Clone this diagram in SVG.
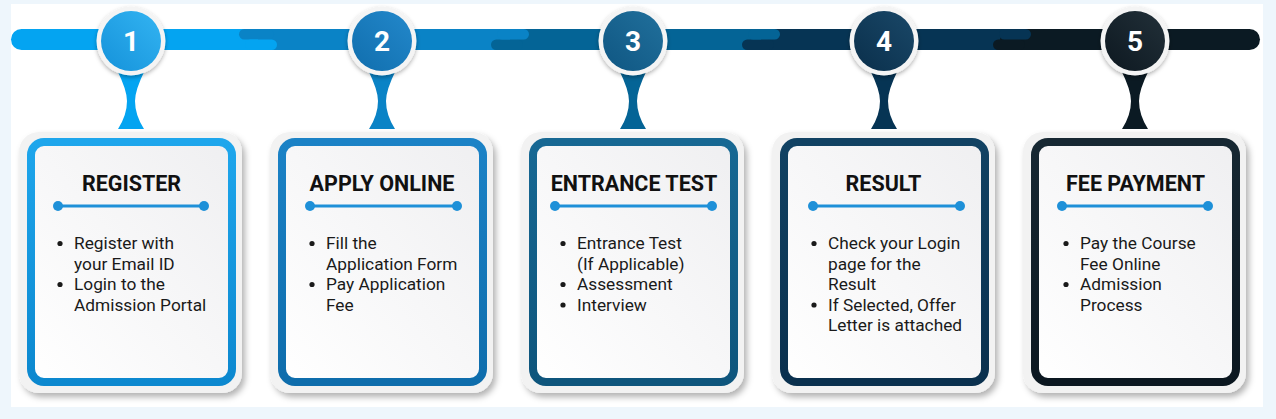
<svg xmlns="http://www.w3.org/2000/svg" width="1276" height="419" viewBox="0 0 1276 419">
<defs>
<style>
.title{font-family:Roboto,"Liberation Sans",sans-serif;font-weight:700;font-size:21.5px;fill:#111;text-anchor:middle}
.body{font-family:Roboto,"Liberation Sans",sans-serif;font-size:17.3px;fill:#1a1a1a}
.num{font-family:Roboto,"Liberation Sans",sans-serif;font-weight:700;font-size:28px;fill:#fff;text-anchor:middle}
.frame{fill:#f2f2f2;filter:url(#sh)}
.box{fill:url(#inner);stroke-width:8}
.div{stroke:#1e90d8;stroke-width:3}
.dot{fill:#1e90d8}
.bul{fill:#1a1a1a}
.ring{fill:#f4f4f4;filter:url(#sh2)}
</style>
<filter id="sh" x="-10%" y="-10%" width="130%" height="130%">
<feDropShadow dx="3" dy="4" stdDeviation="3" flood-color="#000" flood-opacity="0.3"/>
</filter>
<filter id="sh2" x="-20%" y="-20%" width="140%" height="150%">
<feDropShadow dx="0" dy="2" stdDeviation="2" flood-color="#000" flood-opacity="0.3"/>
</filter>
<linearGradient id="inner" x1="1" y1="0" x2="0" y2="1">
<stop offset="0" stop-color="#efeff1"/>
<stop offset="1" stop-color="#ffffff"/>
</linearGradient>
<linearGradient id="b1" x1="0" y1="0" x2="0" y2="1"><stop offset="0" stop-color="#1ea6ec"/><stop offset="1" stop-color="#0c88cf"/></linearGradient>
<linearGradient id="b2" x1="0" y1="0" x2="0" y2="1"><stop offset="0" stop-color="#1b82c6"/><stop offset="1" stop-color="#0e6dac"/></linearGradient>
<linearGradient id="b3" x1="0" y1="0" x2="0" y2="1"><stop offset="0" stop-color="#176893"/><stop offset="1" stop-color="#0e557c"/></linearGradient>
<linearGradient id="b4" x1="0" y1="0" x2="0" y2="1"><stop offset="0" stop-color="#114263"/><stop offset="1" stop-color="#0a304e"/></linearGradient>
<linearGradient id="b5" x1="0" y1="0" x2="0" y2="1"><stop offset="0" stop-color="#172833"/><stop offset="1" stop-color="#0b1720"/></linearGradient>
<linearGradient id="c1" x1="0" y1="1" x2="1" y2="0"><stop offset="0" stop-color="#1592da"/><stop offset="1" stop-color="#33b4f2"/></linearGradient>
<linearGradient id="c2" x1="0" y1="1" x2="1" y2="0"><stop offset="0" stop-color="#106ead"/><stop offset="1" stop-color="#2388cb"/></linearGradient>
<linearGradient id="c3" x1="0" y1="1" x2="1" y2="0"><stop offset="0" stop-color="#0f5682"/><stop offset="1" stop-color="#21709c"/></linearGradient>
<linearGradient id="c4" x1="0" y1="1" x2="1" y2="0"><stop offset="0" stop-color="#0a2f4b"/><stop offset="1" stop-color="#1a4868"/></linearGradient>
<linearGradient id="c5" x1="0" y1="1" x2="1" y2="0"><stop offset="0" stop-color="#0d1820"/><stop offset="1" stop-color="#223039"/></linearGradient>
</defs>

<rect x="0" y="0" width="1276" height="419" fill="#eef6fc"/>
<rect x="11" y="4" width="1252" height="403" fill="#ffffff"/>

<g id="connectors">
<rect x="11" y="29" width="260" height="21" rx="10.5" fill="#04a4f1"/>
<rect x="258" y="29" width="252" height="21" fill="#0a83c6"/>
<rect x="510" y="29" width="251" height="21" fill="#046496"/>
<rect x="761" y="29" width="251" height="21" fill="#063454"/>
<rect x="1000" y="29" width="260" height="21" rx="10.5" fill="#0b1a23"/>
<rect x="1012" y="29" width="20" height="21" fill="#0b1a23"/>
<rect x="239" y="29" width="35" height="10.5" rx="5.25" fill="#0a83c6"/>
<rect x="245" y="39.5" width="32" height="10.5" rx="5.25" fill="#04a4f1"/>
<rect x="491" y="39.5" width="32" height="10.5" rx="5.25" fill="#046496"/>
<rect x="497" y="29" width="32" height="10.5" rx="5.25" fill="#0a83c6"/>
<rect x="742" y="39.5" width="32" height="10.5" rx="5.25" fill="#063454"/>
<rect x="748" y="29" width="32" height="10.5" rx="5.25" fill="#046496"/>
<rect x="993" y="39.5" width="32" height="10.5" rx="5.25" fill="#0b1a23"/>
<rect x="999" y="29" width="32" height="10.5" rx="5.25" fill="#063454"/>
<path d="M117,70 Q127,90 127,101 Q127,115 118,129 L144,129 Q135,115 135,101 Q135,90 145,70 Z" fill="#04a4f1"/>
<path d="M368,70 Q378,90 378,101 Q378,115 369,129 L395,129 Q386,115 386,101 Q386,90 396,70 Z" fill="#0a83c6"/>
<path d="M619,70 Q629,90 629,101 Q629,115 620,129 L646,129 Q637,115 637,101 Q637,90 647,70 Z" fill="#046496"/>
<path d="M870,70 Q880,90 880,101 Q880,115 871,129 L897,129 Q888,115 888,101 Q888,90 898,70 Z" fill="#063454"/>
<path d="M1121,70 Q1131,90 1131,101 Q1131,115 1122,129 L1148,129 Q1139,115 1139,101 Q1139,90 1149,70 Z" fill="#0b1a23"/>
</g>

<g id="step1">
<circle class="ring" cx="131" cy="41" r="34.5"/>
<circle cx="131" cy="41" r="30" fill="url(#c1)"/>
<text class="num" x="131" y="51">1</text>
<rect class="frame" x="19" y="132" width="223" height="261" rx="20"/>
<rect class="box" x="31" y="142" width="201" height="240" rx="13" stroke="url(#b1)"/>
<text class="title" x="131.5" y="191">REGISTER</text>
<line class="div" x1="58" y1="206" x2="204" y2="206"/>
<circle class="dot" cx="58" cy="206" r="5"/><circle class="dot" cx="204" cy="206" r="5"/>
<circle class="bul" cx="60" cy="243.5" r="2.6"/><circle class="bul" cx="60" cy="284.5" r="2.6"/>
<text class="body" x="74" y="249">Register with</text>
<text class="body" x="74" y="269.5">your Email ID</text>
<text class="body" x="74" y="290">Login to the</text>
<text class="body" x="74" y="310.5">Admission Portal</text>
</g>

<g id="step2">
<circle class="ring" cx="382" cy="41" r="34.5"/>
<circle cx="382" cy="41" r="30" fill="url(#c2)"/>
<text class="num" x="382" y="51">2</text>
<rect class="frame" x="270" y="132" width="223" height="261" rx="20"/>
<rect class="box" x="282" y="142" width="201" height="240" rx="13" stroke="url(#b2)"/>
<text class="title" x="382" y="191">APPLY ONLINE</text>
<line class="div" x1="310" y1="206" x2="457" y2="206"/>
<circle class="dot" cx="310" cy="206" r="5"/><circle class="dot" cx="457" cy="206" r="5"/>
<circle class="bul" cx="312" cy="243.5" r="2.6"/><circle class="bul" cx="312" cy="284.5" r="2.6"/>
<text class="body" x="326" y="249">Fill the</text>
<text class="body" x="326" y="269.5">Application Form</text>
<text class="body" x="326" y="290">Pay Application</text>
<text class="body" x="326" y="310.5">Fee</text>
</g>

<g id="step3">
<circle class="ring" cx="633" cy="41" r="34.5"/>
<circle cx="633" cy="41" r="30" fill="url(#c3)"/>
<text class="num" x="633" y="51">3</text>
<rect class="frame" x="521" y="132" width="223" height="261" rx="20"/>
<rect class="box" x="533" y="142" width="201" height="240" rx="13" stroke="url(#b3)"/>
<text class="title" x="634" y="191">ENTRANCE TEST</text>
<line class="div" x1="555" y1="206" x2="712" y2="206"/>
<circle class="dot" cx="555" cy="206" r="5"/><circle class="dot" cx="712" cy="206" r="5"/>
<circle class="bul" cx="563" cy="243.5" r="2.6"/><circle class="bul" cx="563" cy="284.5" r="2.6"/><circle class="bul" cx="563" cy="305" r="2.6"/>
<text class="body" x="577" y="249">Entrance Test</text>
<text class="body" x="577" y="269.5">(If Applicable)</text>
<text class="body" x="577" y="290">Assessment</text>
<text class="body" x="577" y="310.5">Interview</text>
</g>

<g id="step4">
<circle class="ring" cx="884" cy="41" r="34.5"/>
<circle cx="884" cy="41" r="30" fill="url(#c4)"/>
<text class="num" x="884" y="51">4</text>
<rect class="frame" x="772" y="132" width="223" height="261" rx="20"/>
<rect class="box" x="784" y="142" width="201" height="240" rx="13" stroke="url(#b4)"/>
<text class="title" x="883.5" y="191">RESULT</text>
<line class="div" x1="813" y1="206" x2="960" y2="206"/>
<circle class="dot" cx="813" cy="206" r="5"/><circle class="dot" cx="960" cy="206" r="5"/>
<circle class="bul" cx="814" cy="243.5" r="2.6"/><circle class="bul" cx="814" cy="305" r="2.6"/>
<text class="body" x="828" y="249">Check your Login</text>
<text class="body" x="828" y="269.5">page for the</text>
<text class="body" x="828" y="290">Result</text>
<text class="body" x="828" y="310.5">If Selected, Offer</text>
<text class="body" x="828" y="331">Letter is attached</text>
</g>

<g id="step5">
<circle class="ring" cx="1135" cy="41" r="34.5"/>
<circle cx="1135" cy="41" r="30" fill="url(#c5)"/>
<text class="num" x="1135" y="51">5</text>
<rect class="frame" x="1023" y="132" width="223" height="261" rx="20"/>
<rect class="box" x="1035" y="142" width="201" height="240" rx="13" stroke="url(#b5)"/>
<text class="title" x="1135.5" y="191">FEE PAYMENT</text>
<line class="div" x1="1062" y1="206" x2="1208" y2="206"/>
<circle class="dot" cx="1062" cy="206" r="5"/><circle class="dot" cx="1208" cy="206" r="5"/>
<circle class="bul" cx="1066" cy="243.5" r="2.6"/><circle class="bul" cx="1066" cy="284.5" r="2.6"/>
<text class="body" x="1080" y="249">Pay the Course</text>
<text class="body" x="1080" y="269.5">Fee Online</text>
<text class="body" x="1080" y="290">Admission</text>
<text class="body" x="1080" y="310.5">Process</text>
</g>
</svg>
